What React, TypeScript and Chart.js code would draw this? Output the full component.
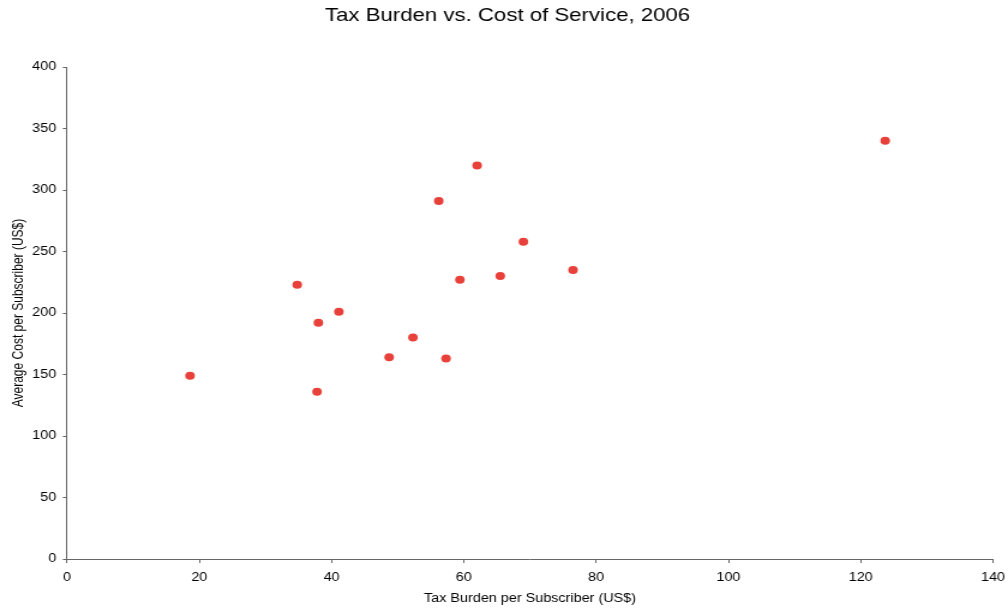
import React, { useEffect, useRef } from "react";
import { Chart, registerables } from "chart.js";

Chart.register(...registerables);

// Tax burden per subscriber (US$) and average cost per subscriber (US$), 2006
const taxBurden = [18.6, 34.8, 38.0, 37.8, 41.1, 48.7, 52.3, 56.2, 57.3, 59.4, 62.0, 65.5, 69.0, 76.5, 123.7];
const averageCost = [149, 223, 192, 136, 201, 164, 180, 291, 163, 227, 320, 230, 258, 235, 340];

const xTickStep = 20;
const yTickStep = 50;

const chartTitle = "Tax Burden vs. Cost of Service, 2006";

const FONT = "'Liberation Sans', Arial, sans-serif";

// The chart is laid out on a narrower canvas and widened with a horizontal
// CSS stretch, which gives the wide lettering and oval markers.
const STRETCH = 1.2;
const OUT_W = 1008;
const OUT_H = 614;
const CANVAS_W = Math.round(OUT_W / STRETCH);

// Heading drawn centred over the whole figure, above the plot area.
const headingPlugin = {
  id: "heading",
  afterDraw(chart: any) {
    const ctx = chart.ctx;
    ctx.save();
    ctx.fillStyle = "#000";
    ctx.font = `normal 18.5px ${FONT}`;
    ctx.textAlign = "center";
    ctx.textBaseline = "middle";
    ctx.fillText(chartTitle, 507.5 / STRETCH, 16);
    ctx.restore();
  },
};

export default function App() {
  const canvasRef = useRef<HTMLCanvasElement | null>(null);

  useEffect(() => {
    const points = taxBurden.map((x, i) => ({ x, y: averageCost[i] }));
    const chart = new Chart(canvasRef.current!, {
      type: "scatter",
      data: {
        datasets: [
          {
            data: points,
            backgroundColor: "#e8403a",
            borderColor: "#e8403a",
            borderWidth: 0,
            pointRadius: 4,
            pointHoverRadius: 4,
          },
        ],
      },
      plugins: [headingPlugin],
      options: {
        animation: false,
        responsive: false,
        devicePixelRatio: 1,
        layout: { padding: { left: 0, right: CANVAS_W - 993 / STRETCH, top: 67, bottom: 0 } },
        plugins: {
          legend: { display: false },
          tooltip: { enabled: false },
          title: { display: false },
        },
        scales: {
          x: {
            type: "linear",
            min: 0,
            max: 140,
            ticks: { stepSize: xTickStep, color: "#000", font: { family: FONT, size: 12 }, padding: 7 },
            grid: { drawOnChartArea: false, drawTicks: true, tickLength: 4, color: "#666" },
            border: { display: true, color: "#666", width: 1 },
            title: {
              display: true,
              text: "Tax Burden per Subscriber (US$)",
              color: "#000",
              font: { family: FONT, size: 12 },
              padding: { top: 8, bottom: 8 },
            },
            afterFit: (scale: any) => {
              scale.height = 55;
              scale.paddingLeft = 0;
              scale.paddingRight = 0;
            },
          },
          y: {
            type: "linear",
            min: 0,
            max: 400,
            ticks: { stepSize: yTickStep, color: "#000", font: { family: FONT, size: 12 }, padding: 5.5 },
            grid: { drawOnChartArea: false, drawTicks: true, tickLength: 3.5, color: "#666" },
            border: { display: true, color: "#666", width: 1 },
            title: {
              display: true,
              text: "Average Cost per Subscriber (US$)",
              color: "#000",
              font: { family: FONT, size: 12 },
              padding: { top: 8, bottom: 0 },
            },
            afterFit: (scale: any) => {
              scale.width = 67 / STRETCH;
              scale.paddingTop = 0;
              scale.paddingBottom = 0;
            },
          },
        },
      },
    });
    return () => chart.destroy();
  }, []);

  return (
    <div
      style={{
        position: "fixed",
        left: 0,
        top: 0,
        width: OUT_W,
        height: OUT_H,
        overflow: "hidden",
        background: "#fff",
      }}
    >
      <div style={{ width: CANVAS_W, height: OUT_H, transform: `scaleX(${STRETCH})`, transformOrigin: "0 0" }}>
        <canvas
          ref={canvasRef}
          width={CANVAS_W}
          height={OUT_H}
          style={{ width: CANVAS_W, height: OUT_H, display: "block" }}
        />
      </div>
    </div>
  );
}
